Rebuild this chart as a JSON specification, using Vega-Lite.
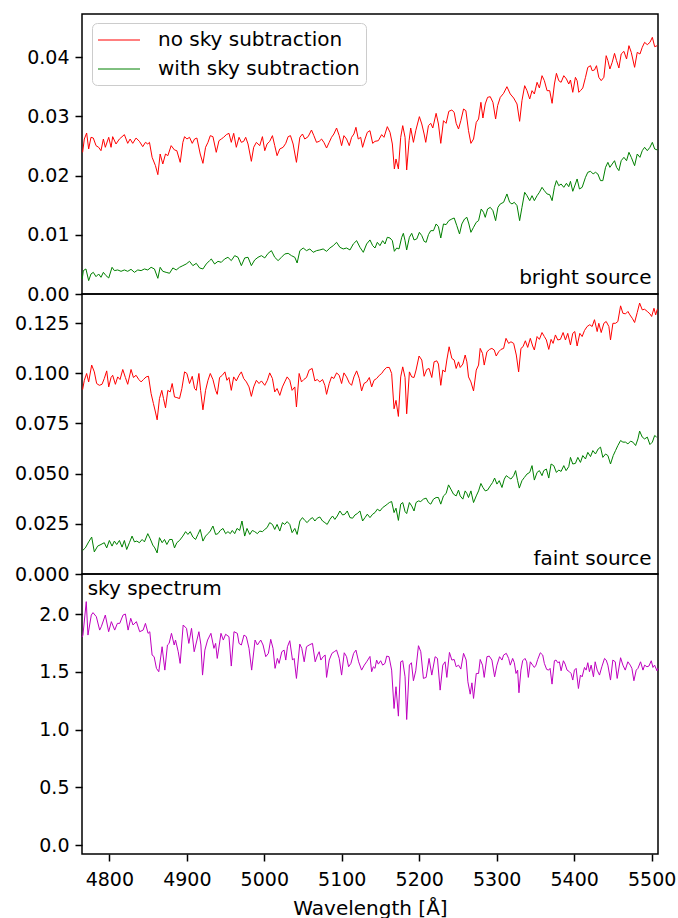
{
"$schema": "https://vega.github.io/schema/vega-lite/v6.json",
"background": "white",
"padding": {"left": 13, "top": 13, "right": 20, "bottom": 5},
"spacing": 0,
"bounds": "flush",
"config": {
  "font": "DejaVu Sans",
  "view": {"stroke": "#000000", "strokeWidth": 1.5},
  "axis": {"grid": false, "domain": false, "tickColor": "#000000", "tickWidth": 1.5, "tickSize": 7, "labelColor": "#000000", "labelFontSize": 19, "labelFont": "DejaVu Sans", "labelPadding": 6, "titleFontSize": 20, "titleFont": "DejaVu Sans", "titleFontWeight": "normal", "titleColor": "#000000"},
  "legend": {"labelFont": "DejaVu Sans", "labelFontSize": 20, "labelColor": "#000000", "labelLimit": 0}
},
"datasets": {
"bright_no": [
{"w":4765.5,"f":0.02393,"s":"no sky subtraction"},{"w":4767.7,"f":0.02618,"s":"no sky subtraction"},{"w":4770.7,"f":0.0272,"s":"no sky subtraction"},{"w":4773.3,"f":0.0245,"s":"no sky subtraction"},{"w":4776.3,"f":0.02647,"s":"no sky subtraction"},{"w":4779.3,"f":0.02635,"s":"no sky subtraction"},{"w":4782.8,"f":0.02506,"s":"no sky subtraction"},{"w":4786.2,"f":0.02478,"s":"no sky subtraction"},{"w":4789.2,"f":0.02421,"s":"no sky subtraction"},{"w":4792.3,"f":0.02618,"s":"no sky subtraction"},{"w":4794.8,"f":0.02478,"s":"no sky subtraction"},{"w":4799.2,"f":0.02647,"s":"no sky subtraction"},{"w":4802.2,"f":0.02478,"s":"no sky subtraction"},{"w":4804.3,"f":0.02658,"s":"no sky subtraction"},{"w":4808.6,"f":0.02534,"s":"no sky subtraction"},{"w":4813.0,"f":0.02618,"s":"no sky subtraction"},{"w":4819.4,"f":0.02692,"s":"no sky subtraction"},{"w":4823.7,"f":0.02545,"s":"no sky subtraction"},{"w":4826.8,"f":0.02618,"s":"no sky subtraction"},{"w":4830.2,"f":0.02545,"s":"no sky subtraction"},{"w":4834.5,"f":0.02635,"s":"no sky subtraction"},{"w":4838.8,"f":0.02579,"s":"no sky subtraction"},{"w":4843.1,"f":0.02489,"s":"no sky subtraction"},{"w":4846.6,"f":0.02562,"s":"no sky subtraction"},{"w":4849.6,"f":0.02534,"s":"no sky subtraction"},{"w":4851.8,"f":0.02562,"s":"no sky subtraction"},{"w":4855.2,"f":0.02309,"s":"no sky subtraction"},{"w":4859.5,"f":0.02168,"s":"no sky subtraction"},{"w":4862.6,"f":0.02016,"s":"no sky subtraction"},{"w":4865.6,"f":0.02365,"s":"no sky subtraction"},{"w":4869.0,"f":0.02196,"s":"no sky subtraction"},{"w":4872.5,"f":0.02365,"s":"no sky subtraction"},{"w":4875.5,"f":0.02337,"s":"no sky subtraction"},{"w":4879.8,"f":0.02506,"s":"no sky subtraction"},{"w":4884.1,"f":0.02433,"s":"no sky subtraction"},{"w":4887.1,"f":0.02421,"s":"no sky subtraction"},{"w":4891.5,"f":0.02224,"s":"no sky subtraction"},{"w":4894.9,"f":0.02562,"s":"no sky subtraction"},{"w":4897.1,"f":0.02658,"s":"no sky subtraction"},{"w":4900.1,"f":0.02618,"s":"no sky subtraction"},{"w":4903.5,"f":0.02647,"s":"no sky subtraction"},{"w":4907.0,"f":0.02545,"s":"no sky subtraction"},{"w":4910.0,"f":0.02618,"s":"no sky subtraction"},{"w":4913.0,"f":0.02635,"s":"no sky subtraction"},{"w":4917.3,"f":0.02365,"s":"no sky subtraction"},{"w":4920.8,"f":0.02207,"s":"no sky subtraction"},{"w":4924.2,"f":0.02478,"s":"no sky subtraction"},{"w":4927.3,"f":0.02562,"s":"no sky subtraction"},{"w":4930.3,"f":0.02675,"s":"no sky subtraction"},{"w":4933.7,"f":0.02658,"s":"no sky subtraction"},{"w":4938.0,"f":0.02393,"s":"no sky subtraction"},{"w":4941.5,"f":0.0259,"s":"no sky subtraction"},{"w":4944.5,"f":0.02618,"s":"no sky subtraction"},{"w":4947.5,"f":0.02647,"s":"no sky subtraction"},{"w":4951.0,"f":0.02692,"s":"no sky subtraction"},{"w":4954.4,"f":0.02714,"s":"no sky subtraction"},{"w":4957.4,"f":0.02562,"s":"no sky subtraction"},{"w":4960.5,"f":0.02714,"s":"no sky subtraction"},{"w":4963.9,"f":0.02478,"s":"no sky subtraction"},{"w":4967.4,"f":0.02647,"s":"no sky subtraction"},{"w":4970.4,"f":0.02562,"s":"no sky subtraction"},{"w":4973.4,"f":0.02579,"s":"no sky subtraction"},{"w":4976.0,"f":0.02647,"s":"no sky subtraction"},{"w":4979.0,"f":0.02534,"s":"no sky subtraction"},{"w":4983.3,"f":0.02241,"s":"no sky subtraction"},{"w":4986.3,"f":0.02478,"s":"no sky subtraction"},{"w":4989.8,"f":0.02562,"s":"no sky subtraction"},{"w":4994.1,"f":0.02506,"s":"no sky subtraction"},{"w":4997.6,"f":0.02658,"s":"no sky subtraction"},{"w":5000.6,"f":0.02421,"s":"no sky subtraction"},{"w":5003.6,"f":0.02534,"s":"no sky subtraction"},{"w":5007.0,"f":0.02579,"s":"no sky subtraction"},{"w":5010.5,"f":0.02675,"s":"no sky subtraction"},{"w":5013.5,"f":0.02506,"s":"no sky subtraction"},{"w":5016.5,"f":0.02337,"s":"no sky subtraction"},{"w":5020.0,"f":0.0245,"s":"no sky subtraction"},{"w":5024.3,"f":0.02478,"s":"no sky subtraction"},{"w":5027.7,"f":0.02545,"s":"no sky subtraction"},{"w":5030.8,"f":0.02658,"s":"no sky subtraction"},{"w":5033.8,"f":0.02675,"s":"no sky subtraction"},{"w":5037.2,"f":0.02534,"s":"no sky subtraction"},{"w":5041.5,"f":0.02224,"s":"no sky subtraction"},{"w":5045.9,"f":0.02647,"s":"no sky subtraction"},{"w":5049.3,"f":0.02703,"s":"no sky subtraction"},{"w":5052.3,"f":0.02618,"s":"no sky subtraction"},{"w":5056.6,"f":0.02658,"s":"no sky subtraction"},{"w":5060.9,"f":0.0277,"s":"no sky subtraction"},{"w":5064.0,"f":0.02675,"s":"no sky subtraction"},{"w":5067.4,"f":0.02562,"s":"no sky subtraction"},{"w":5070.9,"f":0.02579,"s":"no sky subtraction"},{"w":5073.9,"f":0.02618,"s":"no sky subtraction"},{"w":5076.9,"f":0.02562,"s":"no sky subtraction"},{"w":5080.4,"f":0.02466,"s":"no sky subtraction"},{"w":5083.8,"f":0.02562,"s":"no sky subtraction"},{"w":5086.8,"f":0.02647,"s":"no sky subtraction"},{"w":5089.8,"f":0.02703,"s":"no sky subtraction"},{"w":5093.3,"f":0.02804,"s":"no sky subtraction"},{"w":5096.7,"f":0.02675,"s":"no sky subtraction"},{"w":5099.8,"f":0.02506,"s":"no sky subtraction"},{"w":5102.8,"f":0.02675,"s":"no sky subtraction"},{"w":5106.2,"f":0.02618,"s":"no sky subtraction"},{"w":5109.7,"f":0.02506,"s":"no sky subtraction"},{"w":5112.7,"f":0.02647,"s":"no sky subtraction"},{"w":5115.7,"f":0.02703,"s":"no sky subtraction"},{"w":5118.3,"f":0.02816,"s":"no sky subtraction"},{"w":5121.3,"f":0.02618,"s":"no sky subtraction"},{"w":5124.4,"f":0.02647,"s":"no sky subtraction"},{"w":5126.9,"f":0.02478,"s":"no sky subtraction"},{"w":5130.0,"f":0.02618,"s":"no sky subtraction"},{"w":5133.0,"f":0.02731,"s":"no sky subtraction"},
{"w":5136.4,"f":0.02759,"s":"no sky subtraction"},{"w":5139.9,"f":0.02545,"s":"no sky subtraction"},{"w":5142.9,"f":0.02579,"s":"no sky subtraction"},{"w":5147.2,"f":0.0259,"s":"no sky subtraction"},{"w":5151.5,"f":0.02692,"s":"no sky subtraction"},{"w":5154.5,"f":0.02647,"s":"no sky subtraction"},{"w":5158.8,"f":0.02827,"s":"no sky subtraction"},{"w":5162.3,"f":0.02731,"s":"no sky subtraction"},{"w":5165.3,"f":0.02534,"s":"no sky subtraction"},{"w":5167.9,"f":0.02112,"s":"no sky subtraction"},{"w":5170.0,"f":0.02281,"s":"no sky subtraction"},{"w":5173.1,"f":0.02112,"s":"no sky subtraction"},{"w":5176.1,"f":0.02647,"s":"no sky subtraction"},{"w":5178.7,"f":0.02844,"s":"no sky subtraction"},{"w":5181.7,"f":0.02647,"s":"no sky subtraction"},{"w":5183.8,"f":0.02095,"s":"no sky subtraction"},{"w":5186.9,"f":0.0259,"s":"no sky subtraction"},{"w":5189.0,"f":0.02804,"s":"no sky subtraction"},{"w":5192.5,"f":0.02562,"s":"no sky subtraction"},{"w":5195.5,"f":0.02759,"s":"no sky subtraction"},{"w":5200.2,"f":0.02996,"s":"no sky subtraction"},{"w":5203.3,"f":0.02872,"s":"no sky subtraction"},{"w":5206.3,"f":0.02703,"s":"no sky subtraction"},{"w":5208.4,"f":0.02562,"s":"no sky subtraction"},{"w":5211.9,"f":0.02844,"s":"no sky subtraction"},{"w":5214.9,"f":0.02883,"s":"no sky subtraction"},{"w":5217.5,"f":0.02804,"s":"no sky subtraction"},{"w":5221.8,"f":0.03052,"s":"no sky subtraction"},{"w":5224.8,"f":0.02872,"s":"no sky subtraction"},{"w":5227.8,"f":0.02545,"s":"no sky subtraction"},{"w":5231.3,"f":0.02928,"s":"no sky subtraction"},{"w":5234.7,"f":0.02883,"s":"no sky subtraction"},{"w":5238.2,"f":0.03086,"s":"no sky subtraction"},{"w":5242.1,"f":0.03108,"s":"no sky subtraction"},{"w":5245.1,"f":0.03069,"s":"no sky subtraction"},{"w":5247.7,"f":0.02883,"s":"no sky subtraction"},{"w":5250.7,"f":0.02787,"s":"no sky subtraction"},{"w":5253.7,"f":0.02928,"s":"no sky subtraction"},{"w":5257.2,"f":0.03125,"s":"no sky subtraction"},{"w":5260.2,"f":0.03097,"s":"no sky subtraction"},{"w":5263.6,"f":0.02759,"s":"no sky subtraction"},{"w":5266.7,"f":0.02545,"s":"no sky subtraction"},{"w":5270.1,"f":0.02618,"s":"no sky subtraction"},{"w":5273.6,"f":0.029,"s":"no sky subtraction"},{"w":5276.6,"f":0.02956,"s":"no sky subtraction"},{"w":5279.6,"f":0.03238,"s":"no sky subtraction"},{"w":5282.2,"f":0.02973,"s":"no sky subtraction"},{"w":5285.2,"f":0.0321,"s":"no sky subtraction"},{"w":5288.2,"f":0.03322,"s":"no sky subtraction"},{"w":5291.7,"f":0.03333,"s":"no sky subtraction"},{"w":5295.1,"f":0.03238,"s":"no sky subtraction"},{"w":5298.6,"f":0.02956,"s":"no sky subtraction"},{"w":5301.2,"f":0.03182,"s":"no sky subtraction"},{"w":5304.6,"f":0.03322,"s":"no sky subtraction"},{"w":5308.9,"f":0.0339,"s":"no sky subtraction"},{"w":5313.2,"f":0.03502,"s":"no sky subtraction"},{"w":5317.5,"f":0.03379,"s":"no sky subtraction"},{"w":5321.9,"f":0.03311,"s":"no sky subtraction"},{"w":5326.2,"f":0.0321,"s":"no sky subtraction"},{"w":5329.6,"f":0.02917,"s":"no sky subtraction"},{"w":5332.6,"f":0.03266,"s":"no sky subtraction"},{"w":5336.1,"f":0.03519,"s":"no sky subtraction"},{"w":5339.1,"f":0.03435,"s":"no sky subtraction"},{"w":5342.6,"f":0.03294,"s":"no sky subtraction"},{"w":5345.6,"f":0.03435,"s":"no sky subtraction"},{"w":5348.6,"f":0.03379,"s":"no sky subtraction"},{"w":5352.1,"f":0.03576,"s":"no sky subtraction"},{"w":5355.1,"f":0.0348,"s":"no sky subtraction"},{"w":5358.5,"f":0.03688,"s":"no sky subtraction"},{"w":5361.5,"f":0.03604,"s":"no sky subtraction"},{"w":5365.0,"f":0.03435,"s":"no sky subtraction"},{"w":5368.4,"f":0.03435,"s":"no sky subtraction"},{"w":5371.5,"f":0.03221,"s":"no sky subtraction"},{"w":5374.5,"f":0.03547,"s":"no sky subtraction"},{"w":5377.1,"f":0.03728,"s":"no sky subtraction"},{"w":5380.1,"f":0.03604,"s":"no sky subtraction"},{"w":5383.1,"f":0.03576,"s":"no sky subtraction"},{"w":5386.6,"f":0.03688,"s":"no sky subtraction"},{"w":5390.0,"f":0.03632,"s":"no sky subtraction"},{"w":5393.0,"f":0.03547,"s":"no sky subtraction"},{"w":5395.2,"f":0.03615,"s":"no sky subtraction"},{"w":5398.2,"f":0.03407,"s":"no sky subtraction"},{"w":5401.6,"f":0.0366,"s":"no sky subtraction"},{"w":5403.8,"f":0.03604,"s":"no sky subtraction"},{"w":5406.0,"f":0.03407,"s":"no sky subtraction"},{"w":5408.1,"f":0.03435,"s":"no sky subtraction"},{"w":5411.1,"f":0.0348,"s":"no sky subtraction"},{"w":5414.6,"f":0.0366,"s":"no sky subtraction"},{"w":5417.6,"f":0.03829,"s":"no sky subtraction"},{"w":5421.1,"f":0.03857,"s":"no sky subtraction"},{"w":5423.2,"f":0.03773,"s":"no sky subtraction"},{"w":5426.2,"f":0.03784,"s":"no sky subtraction"},{"w":5428.8,"f":0.03857,"s":"no sky subtraction"},{"w":5431.8,"f":0.0366,"s":"no sky subtraction"},{"w":5434.9,"f":0.03604,"s":"no sky subtraction"},{"w":5438.3,"f":0.0366,"s":"no sky subtraction"},{"w":5441.3,"f":0.04026,"s":"no sky subtraction"},{"w":5443.5,"f":0.03942,"s":"no sky subtraction"},{"w":5446.1,"f":0.03801,"s":"no sky subtraction"},{"w":5449.1,"f":0.03913,"s":"no sky subtraction"},{"w":5452.1,"f":0.04065,"s":"no sky subtraction"},{"w":5454.7,"f":0.03942,"s":"no sky subtraction"},{"w":5457.7,"f":0.03818,"s":"no sky subtraction"},{"w":5460.7,"f":0.04054,"s":"no sky subtraction"},{"w":5464.2,"f":0.04099,"s":"no sky subtraction"},{"w":5467.6,"f":0.0397,"s":"no sky subtraction"},{"w":5470.7,"f":0.04195,"s":"no sky subtraction"},{"w":5473.7,"f":0.04082,"s":"no sky subtraction"},{"w":5478.0,"f":0.03829,"s":"no sky subtraction"},{"w":5481.4,"f":0.04082,"s":"no sky subtraction"},{"w":5484.9,"f":0.04054,"s":"no sky subtraction"},{"w":5487.9,"f":0.04167,"s":"no sky subtraction"},{"w":5490.9,"f":0.04251,"s":"no sky subtraction"},{"w":5494.4,"f":0.04212,"s":"no sky subtraction"},{"w":5497.8,"f":0.04251,"s":"no sky subtraction"},{"w":5500.9,"f":0.04336,"s":"no sky subtraction"},{"w":5503.9,"f":0.04178,"s":"no sky subtraction"},{"w":5507.3,"f":0.04195,"s":"no sky subtraction"}
],
"bright_with": [
{"w":4765.0,"f":0.00254,"s":"with sky subtraction"},{"w":4766.4,"f":0.00395,"s":"with sky subtraction"},{"w":4769.8,"f":0.00423,"s":"with sky subtraction"},{"w":4773.3,"f":0.00226,"s":"with sky subtraction"},{"w":4776.3,"f":0.00338,"s":"with sky subtraction"},{"w":4779.3,"f":0.00366,"s":"with sky subtraction"},{"w":4782.8,"f":0.00293,"s":"with sky subtraction"},{"w":4786.2,"f":0.00338,"s":"with sky subtraction"},{"w":4789.2,"f":0.00282,"s":"with sky subtraction"},{"w":4792.3,"f":0.00366,"s":"with sky subtraction"},{"w":4795.7,"f":0.0031,"s":"with sky subtraction"},{"w":4799.2,"f":0.00271,"s":"with sky subtraction"},{"w":4803.5,"f":0.00451,"s":"with sky subtraction"},{"w":4806.5,"f":0.00395,"s":"with sky subtraction"},{"w":4810.8,"f":0.00406,"s":"with sky subtraction"},{"w":4815.1,"f":0.00383,"s":"with sky subtraction"},{"w":4819.4,"f":0.00406,"s":"with sky subtraction"},{"w":4823.7,"f":0.00383,"s":"with sky subtraction"},{"w":4828.0,"f":0.00417,"s":"with sky subtraction"},{"w":4832.4,"f":0.00366,"s":"with sky subtraction"},{"w":4836.7,"f":0.00406,"s":"with sky subtraction"},{"w":4841.0,"f":0.00395,"s":"with sky subtraction"},{"w":4845.3,"f":0.00423,"s":"with sky subtraction"},{"w":4849.6,"f":0.00406,"s":"with sky subtraction"},{"w":4853.9,"f":0.00451,"s":"with sky subtraction"},{"w":4858.2,"f":0.00423,"s":"with sky subtraction"},{"w":4862.6,"f":0.00265,"s":"with sky subtraction"},{"w":4865.6,"f":0.00451,"s":"with sky subtraction"},{"w":4869.0,"f":0.00383,"s":"with sky subtraction"},{"w":4873.3,"f":0.00366,"s":"with sky subtraction"},{"w":4877.7,"f":0.0035,"s":"with sky subtraction"},{"w":4882.0,"f":0.0044,"s":"with sky subtraction"},{"w":4886.3,"f":0.00406,"s":"with sky subtraction"},{"w":4890.6,"f":0.00451,"s":"with sky subtraction"},{"w":4894.9,"f":0.00479,"s":"with sky subtraction"},{"w":4899.2,"f":0.00507,"s":"with sky subtraction"},{"w":4903.5,"f":0.00552,"s":"with sky subtraction"},{"w":4907.8,"f":0.00479,"s":"with sky subtraction"},{"w":4912.2,"f":0.00518,"s":"with sky subtraction"},{"w":4916.5,"f":0.0044,"s":"with sky subtraction"},{"w":4920.8,"f":0.00423,"s":"with sky subtraction"},{"w":4925.1,"f":0.00507,"s":"with sky subtraction"},{"w":4929.4,"f":0.00564,"s":"with sky subtraction"},{"w":4931.6,"f":0.00592,"s":"with sky subtraction"},{"w":4935.9,"f":0.00507,"s":"with sky subtraction"},{"w":4940.2,"f":0.00552,"s":"with sky subtraction"},{"w":4944.5,"f":0.00535,"s":"with sky subtraction"},{"w":4948.8,"f":0.00592,"s":"with sky subtraction"},{"w":4953.1,"f":0.0062,"s":"with sky subtraction"},{"w":4957.4,"f":0.00564,"s":"with sky subtraction"},{"w":4961.8,"f":0.00648,"s":"with sky subtraction"},{"w":4966.1,"f":0.0062,"s":"with sky subtraction"},{"w":4970.4,"f":0.00479,"s":"with sky subtraction"},{"w":4974.7,"f":0.00609,"s":"with sky subtraction"},{"w":4979.0,"f":0.0062,"s":"with sky subtraction"},{"w":4983.3,"f":0.00479,"s":"with sky subtraction"},{"w":4987.6,"f":0.00575,"s":"with sky subtraction"},{"w":4991.9,"f":0.0062,"s":"with sky subtraction"},{"w":4996.3,"f":0.00648,"s":"with sky subtraction"},{"w":5000.6,"f":0.00609,"s":"with sky subtraction"},{"w":5004.9,"f":0.00687,"s":"with sky subtraction"},{"w":5009.2,"f":0.00732,"s":"with sky subtraction"},{"w":5013.5,"f":0.0062,"s":"with sky subtraction"},{"w":5017.8,"f":0.00564,"s":"with sky subtraction"},{"w":5022.1,"f":0.0062,"s":"with sky subtraction"},{"w":5026.4,"f":0.00676,"s":"with sky subtraction"},{"w":5030.8,"f":0.00687,"s":"with sky subtraction"},{"w":5035.1,"f":0.00648,"s":"with sky subtraction"},{"w":5039.4,"f":0.0062,"s":"with sky subtraction"},{"w":5042.4,"f":0.00524,"s":"with sky subtraction"},{"w":5045.9,"f":0.00732,"s":"with sky subtraction"},{"w":5050.2,"f":0.00777,"s":"with sky subtraction"},{"w":5054.5,"f":0.00732,"s":"with sky subtraction"},{"w":5058.8,"f":0.00761,"s":"with sky subtraction"},{"w":5063.1,"f":0.00704,"s":"with sky subtraction"},{"w":5067.4,"f":0.00732,"s":"with sky subtraction"},{"w":5071.7,"f":0.00744,"s":"with sky subtraction"},{"w":5076.0,"f":0.00761,"s":"with sky subtraction"},{"w":5080.4,"f":0.00721,"s":"with sky subtraction"},{"w":5084.7,"f":0.00777,"s":"with sky subtraction"},{"w":5089.0,"f":0.00817,"s":"with sky subtraction"},{"w":5093.3,"f":0.00873,"s":"with sky subtraction"},{"w":5097.6,"f":0.00789,"s":"with sky subtraction"},{"w":5101.9,"f":0.00761,"s":"with sky subtraction"},{"w":5106.2,"f":0.00777,"s":"with sky subtraction"},{"w":5110.6,"f":0.00744,"s":"with sky subtraction"},{"w":5114.9,"f":0.00845,"s":"with sky subtraction"},{"w":5119.2,"f":0.00901,"s":"with sky subtraction"},{"w":5123.5,"f":0.00789,"s":"with sky subtraction"},{"w":5127.8,"f":0.00704,"s":"with sky subtraction"},{"w":5132.1,"f":0.00845,"s":"with sky subtraction"},
{"w":5136.4,"f":0.00913,"s":"with sky subtraction"},{"w":5139.9,"f":0.00817,"s":"with sky subtraction"},{"w":5142.9,"f":0.00777,"s":"with sky subtraction"},{"w":5145.9,"f":0.00873,"s":"with sky subtraction"},{"w":5149.3,"f":0.00817,"s":"with sky subtraction"},{"w":5152.8,"f":0.00901,"s":"with sky subtraction"},{"w":5155.8,"f":0.00845,"s":"with sky subtraction"},{"w":5158.8,"f":0.00958,"s":"with sky subtraction"},{"w":5162.3,"f":0.00946,"s":"with sky subtraction"},{"w":5165.3,"f":0.00901,"s":"with sky subtraction"},{"w":5167.9,"f":0.00721,"s":"with sky subtraction"},{"w":5170.9,"f":0.00777,"s":"with sky subtraction"},{"w":5173.9,"f":0.00761,"s":"with sky subtraction"},{"w":5177.4,"f":0.00958,"s":"with sky subtraction"},{"w":5179.5,"f":0.01025,"s":"with sky subtraction"},{"w":5181.7,"f":0.00901,"s":"with sky subtraction"},{"w":5183.8,"f":0.00744,"s":"with sky subtraction"},{"w":5187.3,"f":0.00958,"s":"with sky subtraction"},{"w":5190.3,"f":0.01025,"s":"with sky subtraction"},{"w":5193.3,"f":0.00913,"s":"with sky subtraction"},{"w":5196.8,"f":0.0093,"s":"with sky subtraction"},{"w":5200.2,"f":0.01042,"s":"with sky subtraction"},{"w":5203.3,"f":0.00986,"s":"with sky subtraction"},{"w":5206.3,"f":0.0089,"s":"with sky subtraction"},{"w":5208.9,"f":0.00873,"s":"with sky subtraction"},{"w":5211.9,"f":0.01003,"s":"with sky subtraction"},{"w":5214.9,"f":0.0107,"s":"with sky subtraction"},{"w":5218.4,"f":0.0107,"s":"with sky subtraction"},{"w":5221.8,"f":0.01183,"s":"with sky subtraction"},{"w":5224.8,"f":0.01138,"s":"with sky subtraction"},{"w":5227.8,"f":0.00946,"s":"with sky subtraction"},{"w":5231.3,"f":0.01183,"s":"with sky subtraction"},{"w":5234.7,"f":0.01172,"s":"with sky subtraction"},{"w":5238.2,"f":0.01239,"s":"with sky subtraction"},{"w":5242.1,"f":0.01267,"s":"with sky subtraction"},{"w":5245.1,"f":0.01284,"s":"with sky subtraction"},{"w":5248.5,"f":0.01155,"s":"with sky subtraction"},{"w":5252.0,"f":0.01014,"s":"with sky subtraction"},{"w":5255.0,"f":0.01183,"s":"with sky subtraction"},{"w":5258.5,"f":0.01267,"s":"with sky subtraction"},{"w":5261.5,"f":0.01295,"s":"with sky subtraction"},{"w":5264.1,"f":0.01183,"s":"with sky subtraction"},{"w":5266.7,"f":0.01042,"s":"with sky subtraction"},{"w":5270.1,"f":0.01127,"s":"with sky subtraction"},{"w":5273.6,"f":0.01211,"s":"with sky subtraction"},{"w":5276.6,"f":0.01239,"s":"with sky subtraction"},{"w":5280.0,"f":0.01436,"s":"with sky subtraction"},{"w":5283.0,"f":0.0138,"s":"with sky subtraction"},{"w":5285.2,"f":0.01295,"s":"with sky subtraction"},{"w":5288.2,"f":0.01436,"s":"with sky subtraction"},{"w":5291.7,"f":0.01464,"s":"with sky subtraction"},{"w":5295.1,"f":0.01408,"s":"with sky subtraction"},{"w":5298.6,"f":0.01239,"s":"with sky subtraction"},{"w":5301.6,"f":0.01464,"s":"with sky subtraction"},{"w":5304.6,"f":0.01521,"s":"with sky subtraction"},{"w":5308.9,"f":0.01549,"s":"with sky subtraction"},{"w":5313.2,"f":0.0169,"s":"with sky subtraction"},{"w":5316.7,"f":0.01549,"s":"with sky subtraction"},{"w":5319.7,"f":0.01521,"s":"with sky subtraction"},{"w":5322.7,"f":0.01549,"s":"with sky subtraction"},{"w":5326.2,"f":0.01493,"s":"with sky subtraction"},{"w":5329.6,"f":0.01239,"s":"with sky subtraction"},{"w":5332.6,"f":0.01464,"s":"with sky subtraction"},{"w":5336.1,"f":0.01718,"s":"with sky subtraction"},{"w":5339.1,"f":0.01661,"s":"with sky subtraction"},{"w":5342.6,"f":0.01577,"s":"with sky subtraction"},{"w":5345.6,"f":0.01661,"s":"with sky subtraction"},{"w":5348.6,"f":0.01577,"s":"with sky subtraction"},{"w":5352.1,"f":0.01661,"s":"with sky subtraction"},{"w":5355.1,"f":0.01718,"s":"with sky subtraction"},{"w":5358.5,"f":0.01802,"s":"with sky subtraction"},{"w":5361.5,"f":0.01746,"s":"with sky subtraction"},{"w":5365.0,"f":0.0169,"s":"with sky subtraction"},{"w":5368.4,"f":0.01678,"s":"with sky subtraction"},{"w":5371.5,"f":0.01577,"s":"with sky subtraction"},{"w":5374.5,"f":0.01802,"s":"with sky subtraction"},{"w":5377.1,"f":0.01915,"s":"with sky subtraction"},{"w":5380.1,"f":0.0183,"s":"with sky subtraction"},{"w":5383.1,"f":0.01858,"s":"with sky subtraction"},{"w":5386.6,"f":0.01802,"s":"with sky subtraction"},{"w":5390.0,"f":0.0187,"s":"with sky subtraction"},{"w":5393.0,"f":0.01813,"s":"with sky subtraction"},{"w":5395.2,"f":0.01903,"s":"with sky subtraction"},{"w":5398.2,"f":0.01735,"s":"with sky subtraction"},{"w":5401.6,"f":0.01858,"s":"with sky subtraction"},{"w":5403.8,"f":0.01943,"s":"with sky subtraction"},{"w":5406.8,"f":0.01774,"s":"with sky subtraction"},{"w":5410.3,"f":0.01802,"s":"with sky subtraction"},{"w":5414.6,"f":0.01971,"s":"with sky subtraction"},{"w":5417.6,"f":0.02056,"s":"with sky subtraction"},{"w":5421.1,"f":0.02073,"s":"with sky subtraction"},{"w":5424.5,"f":0.02028,"s":"with sky subtraction"},{"w":5427.5,"f":0.02056,"s":"with sky subtraction"},{"w":5430.5,"f":0.02028,"s":"with sky subtraction"},{"w":5434.0,"f":0.01915,"s":"with sky subtraction"},{"w":5437.0,"f":0.01915,"s":"with sky subtraction"},{"w":5440.5,"f":0.0214,"s":"with sky subtraction"},{"w":5443.5,"f":0.02224,"s":"with sky subtraction"},{"w":5446.1,"f":0.0214,"s":"with sky subtraction"},{"w":5449.1,"f":0.02196,"s":"with sky subtraction"},{"w":5452.1,"f":0.02252,"s":"with sky subtraction"},{"w":5454.7,"f":0.0214,"s":"with sky subtraction"},{"w":5457.7,"f":0.02084,"s":"with sky subtraction"},{"w":5460.7,"f":0.02252,"s":"with sky subtraction"},{"w":5464.2,"f":0.02309,"s":"with sky subtraction"},{"w":5467.6,"f":0.02252,"s":"with sky subtraction"},{"w":5470.7,"f":0.02393,"s":"with sky subtraction"},{"w":5473.7,"f":0.02309,"s":"with sky subtraction"},{"w":5478.0,"f":0.02168,"s":"with sky subtraction"},{"w":5481.4,"f":0.02365,"s":"with sky subtraction"},{"w":5484.9,"f":0.02309,"s":"with sky subtraction"},{"w":5487.9,"f":0.02421,"s":"with sky subtraction"},{"w":5490.9,"f":0.02478,"s":"with sky subtraction"},{"w":5494.4,"f":0.02421,"s":"with sky subtraction"},{"w":5497.8,"f":0.02478,"s":"with sky subtraction"},{"w":5500.9,"f":0.02562,"s":"with sky subtraction"},{"w":5503.9,"f":0.0245,"s":"with sky subtraction"},{"w":5507.3,"f":0.02433,"s":"with sky subtraction"}
],
"faint_no": [
{"w":4765.5,"f":0.0919,"s":"no sky subtraction"},{"w":4767.7,"f":0.0965,"s":"no sky subtraction"},{"w":4770.7,"f":0.0999,"s":"no sky subtraction"},{"w":4773.3,"f":0.0957,"s":"no sky subtraction"},{"w":4777.2,"f":0.1041,"s":"no sky subtraction"},{"w":4780.6,"f":0.1007,"s":"no sky subtraction"},{"w":4783.6,"f":0.0949,"s":"no sky subtraction"},{"w":4787.1,"f":0.094,"s":"no sky subtraction"},{"w":4790.5,"f":0.0945,"s":"no sky subtraction"},{"w":4793.5,"f":0.0974,"s":"no sky subtraction"},{"w":4796.6,"f":0.1012,"s":"no sky subtraction"},{"w":4799.2,"f":0.0932,"s":"no sky subtraction"},{"w":4802.2,"f":0.0979,"s":"no sky subtraction"},{"w":4804.3,"f":0.099,"s":"no sky subtraction"},{"w":4807.8,"f":0.0945,"s":"no sky subtraction"},{"w":4810.8,"f":0.0982,"s":"no sky subtraction"},{"w":4813.8,"f":0.0969,"s":"no sky subtraction"},{"w":4817.3,"f":0.1019,"s":"no sky subtraction"},{"w":4820.7,"f":0.0979,"s":"no sky subtraction"},{"w":4823.7,"f":0.0945,"s":"no sky subtraction"},{"w":4828.0,"f":0.1019,"s":"no sky subtraction"},{"w":4831.1,"f":0.0979,"s":"no sky subtraction"},{"w":4834.5,"f":0.099,"s":"no sky subtraction"},{"w":4838.0,"f":0.0969,"s":"no sky subtraction"},{"w":4841.0,"f":0.0957,"s":"no sky subtraction"},{"w":4844.0,"f":0.0969,"s":"no sky subtraction"},{"w":4847.5,"f":0.0982,"s":"no sky subtraction"},{"w":4850.5,"f":0.0985,"s":"no sky subtraction"},{"w":4853.9,"f":0.0899,"s":"no sky subtraction"},{"w":4856.9,"f":0.0849,"s":"no sky subtraction"},{"w":4859.5,"f":0.0807,"s":"no sky subtraction"},{"w":4861.7,"f":0.0768,"s":"no sky subtraction"},{"w":4864.7,"f":0.0874,"s":"no sky subtraction"},{"w":4867.7,"f":0.0915,"s":"no sky subtraction"},{"w":4869.9,"f":0.0874,"s":"no sky subtraction"},{"w":4872.5,"f":0.0828,"s":"no sky subtraction"},{"w":4875.5,"f":0.0915,"s":"no sky subtraction"},{"w":4878.5,"f":0.0907,"s":"no sky subtraction"},{"w":4881.1,"f":0.0949,"s":"no sky subtraction"},{"w":4884.1,"f":0.0882,"s":"no sky subtraction"},{"w":4887.1,"f":0.0879,"s":"no sky subtraction"},{"w":4890.6,"f":0.0874,"s":"no sky subtraction"},{"w":4893.6,"f":0.0924,"s":"no sky subtraction"},{"w":4897.1,"f":0.1007,"s":"no sky subtraction"},{"w":4900.1,"f":0.0999,"s":"no sky subtraction"},{"w":4903.5,"f":0.0949,"s":"no sky subtraction"},{"w":4907.0,"f":0.0985,"s":"no sky subtraction"},{"w":4910.0,"f":0.0924,"s":"no sky subtraction"},{"w":4912.2,"f":0.0915,"s":"no sky subtraction"},{"w":4915.6,"f":0.0999,"s":"no sky subtraction"},{"w":4917.8,"f":0.0915,"s":"no sky subtraction"},{"w":4920.8,"f":0.0818,"s":"no sky subtraction"},{"w":4924.2,"f":0.0915,"s":"no sky subtraction"},{"w":4927.3,"f":0.0965,"s":"no sky subtraction"},{"w":4930.3,"f":0.0999,"s":"no sky subtraction"},{"w":4933.7,"f":0.0969,"s":"no sky subtraction"},{"w":4937.2,"f":0.0915,"s":"no sky subtraction"},{"w":4939.3,"f":0.0895,"s":"no sky subtraction"},{"w":4942.3,"f":0.0979,"s":"no sky subtraction"},{"w":4945.8,"f":0.099,"s":"no sky subtraction"},{"w":4949.2,"f":0.1007,"s":"no sky subtraction"},{"w":4951.8,"f":0.0965,"s":"no sky subtraction"},{"w":4954.4,"f":0.0979,"s":"no sky subtraction"},{"w":4957.4,"f":0.0915,"s":"no sky subtraction"},{"w":4960.5,"f":0.0982,"s":"no sky subtraction"},{"w":4963.9,"f":0.0962,"s":"no sky subtraction"},{"w":4967.4,"f":0.099,"s":"no sky subtraction"},{"w":4970.4,"f":0.1007,"s":"no sky subtraction"},{"w":4973.4,"f":0.0974,"s":"no sky subtraction"},{"w":4976.9,"f":0.0957,"s":"no sky subtraction"},{"w":4980.3,"f":0.0932,"s":"no sky subtraction"},{"w":4983.3,"f":0.0885,"s":"no sky subtraction"},{"w":4986.3,"f":0.0932,"s":"no sky subtraction"},{"w":4989.8,"f":0.0965,"s":"no sky subtraction"},{"w":4993.2,"f":0.0949,"s":"no sky subtraction"},{"w":4996.3,"f":0.0962,"s":"no sky subtraction"},{"w":5000.6,"f":0.094,"s":"no sky subtraction"},{"w":5004.0,"f":0.0965,"s":"no sky subtraction"},{"w":5007.0,"f":0.1002,"s":"no sky subtraction"},{"w":5010.5,"f":0.0974,"s":"no sky subtraction"},{"w":5013.5,"f":0.0907,"s":"no sky subtraction"},{"w":5016.5,"f":0.0924,"s":"no sky subtraction"},{"w":5020.0,"f":0.089,"s":"no sky subtraction"},{"w":5023.4,"f":0.0932,"s":"no sky subtraction"},{"w":5026.4,"f":0.0957,"s":"no sky subtraction"},{"w":5029.5,"f":0.0982,"s":"no sky subtraction"},{"w":5032.9,"f":0.0965,"s":"no sky subtraction"},{"w":5035.9,"f":0.0915,"s":"no sky subtraction"},{"w":5039.4,"f":0.0932,"s":"no sky subtraction"},{"w":5041.5,"f":0.0832,"s":"no sky subtraction"},{"w":5045.0,"f":0.0999,"s":"no sky subtraction"},{"w":5048.0,"f":0.0957,"s":"no sky subtraction"},{"w":5051.0,"f":0.0969,"s":"no sky subtraction"},{"w":5054.5,"f":0.0979,"s":"no sky subtraction"},{"w":5057.9,"f":0.1016,"s":"no sky subtraction"},{"w":5061.8,"f":0.1024,"s":"no sky subtraction"},{"w":5065.3,"f":0.0962,"s":"no sky subtraction"},{"w":5068.3,"f":0.0969,"s":"no sky subtraction"},{"w":5071.7,"f":0.0957,"s":"no sky subtraction"},{"w":5075.2,"f":0.0969,"s":"no sky subtraction"},{"w":5078.2,"f":0.094,"s":"no sky subtraction"},{"w":5080.4,"f":0.0895,"s":"no sky subtraction"},{"w":5083.8,"f":0.0949,"s":"no sky subtraction"},{"w":5086.8,"f":0.0982,"s":"no sky subtraction"},{"w":5089.8,"f":0.0974,"s":"no sky subtraction"},{"w":5093.3,"f":0.1002,"s":"no sky subtraction"},{"w":5096.7,"f":0.099,"s":"no sky subtraction"},{"w":5099.8,"f":0.0949,"s":"no sky subtraction"},{"w":5102.8,"f":0.1002,"s":"no sky subtraction"},{"w":5106.2,"f":0.0982,"s":"no sky subtraction"},{"w":5109.7,"f":0.0952,"s":"no sky subtraction"},{"w":5112.7,"f":0.094,"s":"no sky subtraction"},{"w":5115.7,"f":0.0982,"s":"no sky subtraction"},{"w":5119.2,"f":0.1012,"s":"no sky subtraction"},{"w":5122.6,"f":0.0974,"s":"no sky subtraction"},{"w":5125.6,"f":0.0912,"s":"no sky subtraction"},{"w":5128.7,"f":0.0949,"s":"no sky subtraction"},{"w":5132.1,"f":0.0957,"s":"no sky subtraction"},{"w":5135.6,"f":0.0979,"s":"no sky subtraction"},
{"w":5138.6,"f":0.0932,"s":"no sky subtraction"},{"w":5141.6,"f":0.0965,"s":"no sky subtraction"},{"w":5145.0,"f":0.0974,"s":"no sky subtraction"},{"w":5148.5,"f":0.099,"s":"no sky subtraction"},{"w":5151.5,"f":0.0999,"s":"no sky subtraction"},{"w":5154.5,"f":0.1016,"s":"no sky subtraction"},{"w":5158.0,"f":0.1029,"s":"no sky subtraction"},{"w":5161.4,"f":0.1029,"s":"no sky subtraction"},{"w":5164.4,"f":0.0999,"s":"no sky subtraction"},{"w":5167.5,"f":0.0823,"s":"no sky subtraction"},{"w":5170.0,"f":0.0865,"s":"no sky subtraction"},{"w":5173.1,"f":0.0785,"s":"no sky subtraction"},{"w":5176.1,"f":0.0982,"s":"no sky subtraction"},{"w":5178.7,"f":0.1032,"s":"no sky subtraction"},{"w":5181.7,"f":0.0979,"s":"no sky subtraction"},{"w":5183.8,"f":0.0798,"s":"no sky subtraction"},{"w":5187.3,"f":0.1007,"s":"no sky subtraction"},{"w":5190.3,"f":0.0982,"s":"no sky subtraction"},{"w":5193.3,"f":0.0979,"s":"no sky subtraction"},{"w":5195.9,"f":0.1016,"s":"no sky subtraction"},{"w":5199.8,"f":0.1086,"s":"no sky subtraction"},{"w":5203.3,"f":0.1066,"s":"no sky subtraction"},{"w":5206.3,"f":0.0985,"s":"no sky subtraction"},{"w":5209.7,"f":0.1019,"s":"no sky subtraction"},{"w":5212.7,"f":0.1024,"s":"no sky subtraction"},{"w":5216.2,"f":0.0979,"s":"no sky subtraction"},{"w":5219.2,"f":0.1057,"s":"no sky subtraction"},{"w":5222.7,"f":0.1062,"s":"no sky subtraction"},{"w":5224.8,"f":0.1046,"s":"no sky subtraction"},{"w":5227.8,"f":0.094,"s":"no sky subtraction"},{"w":5230.4,"f":0.1016,"s":"no sky subtraction"},{"w":5233.4,"f":0.1007,"s":"no sky subtraction"},{"w":5235.6,"f":0.1066,"s":"no sky subtraction"},{"w":5238.6,"f":0.1132,"s":"no sky subtraction"},{"w":5242.1,"f":0.1074,"s":"no sky subtraction"},{"w":5245.1,"f":0.1066,"s":"no sky subtraction"},{"w":5247.7,"f":0.1024,"s":"no sky subtraction"},{"w":5250.7,"f":0.1057,"s":"no sky subtraction"},{"w":5252.9,"f":0.1029,"s":"no sky subtraction"},{"w":5256.3,"f":0.1046,"s":"no sky subtraction"},{"w":5259.3,"f":0.1091,"s":"no sky subtraction"},{"w":5261.5,"f":0.1057,"s":"no sky subtraction"},{"w":5263.6,"f":0.0982,"s":"no sky subtraction"},{"w":5266.7,"f":0.0957,"s":"no sky subtraction"},{"w":5270.1,"f":0.0912,"s":"no sky subtraction"},{"w":5273.6,"f":0.1016,"s":"no sky subtraction"},{"w":5276.6,"f":0.1041,"s":"no sky subtraction"},{"w":5278.7,"f":0.1124,"s":"no sky subtraction"},{"w":5281.7,"f":0.1099,"s":"no sky subtraction"},{"w":5283.9,"f":0.1041,"s":"no sky subtraction"},{"w":5287.4,"f":0.1107,"s":"no sky subtraction"},{"w":5290.8,"f":0.1119,"s":"no sky subtraction"},{"w":5293.8,"f":0.1124,"s":"no sky subtraction"},{"w":5296.8,"f":0.1116,"s":"no sky subtraction"},{"w":5299.4,"f":0.1086,"s":"no sky subtraction"},{"w":5302.5,"f":0.1107,"s":"no sky subtraction"},{"w":5305.5,"f":0.1119,"s":"no sky subtraction"},{"w":5308.9,"f":0.1124,"s":"no sky subtraction"},{"w":5312.0,"f":0.1174,"s":"no sky subtraction"},{"w":5315.4,"f":0.1149,"s":"no sky subtraction"},{"w":5318.4,"f":0.1157,"s":"no sky subtraction"},{"w":5321.9,"f":0.1149,"s":"no sky subtraction"},{"w":5325.3,"f":0.1091,"s":"no sky subtraction"},{"w":5328.3,"f":0.1007,"s":"no sky subtraction"},{"w":5331.3,"f":0.1124,"s":"no sky subtraction"},{"w":5333.9,"f":0.1132,"s":"no sky subtraction"},{"w":5337.0,"f":0.1162,"s":"no sky subtraction"},{"w":5340.0,"f":0.1129,"s":"no sky subtraction"},{"w":5343.4,"f":0.1174,"s":"no sky subtraction"},{"w":5346.4,"f":0.1136,"s":"no sky subtraction"},{"w":5348.6,"f":0.1116,"s":"no sky subtraction"},{"w":5352.1,"f":0.1183,"s":"no sky subtraction"},{"w":5355.1,"f":0.1169,"s":"no sky subtraction"},{"w":5358.5,"f":0.1203,"s":"no sky subtraction"},{"w":5361.5,"f":0.1183,"s":"no sky subtraction"},{"w":5364.1,"f":0.1166,"s":"no sky subtraction"},{"w":5367.2,"f":0.1119,"s":"no sky subtraction"},{"w":5370.2,"f":0.1169,"s":"no sky subtraction"},{"w":5372.8,"f":0.1149,"s":"no sky subtraction"},{"w":5375.8,"f":0.1191,"s":"no sky subtraction"},{"w":5378.8,"f":0.1166,"s":"no sky subtraction"},{"w":5382.2,"f":0.1169,"s":"no sky subtraction"},{"w":5385.7,"f":0.1203,"s":"no sky subtraction"},{"w":5388.7,"f":0.1166,"s":"no sky subtraction"},{"w":5391.7,"f":0.1199,"s":"no sky subtraction"},{"w":5395.2,"f":0.1141,"s":"no sky subtraction"},{"w":5398.2,"f":0.1199,"s":"no sky subtraction"},{"w":5400.8,"f":0.1208,"s":"no sky subtraction"},{"w":5403.8,"f":0.1136,"s":"no sky subtraction"},{"w":5407.3,"f":0.1199,"s":"no sky subtraction"},{"w":5410.3,"f":0.1183,"s":"no sky subtraction"},{"w":5413.3,"f":0.1213,"s":"no sky subtraction"},{"w":5416.7,"f":0.1233,"s":"no sky subtraction"},{"w":5420.2,"f":0.1242,"s":"no sky subtraction"},{"w":5423.2,"f":0.1233,"s":"no sky subtraction"},{"w":5426.2,"f":0.1267,"s":"no sky subtraction"},{"w":5429.7,"f":0.1208,"s":"no sky subtraction"},{"w":5431.8,"f":0.1249,"s":"no sky subtraction"},{"w":5434.9,"f":0.1203,"s":"no sky subtraction"},{"w":5438.3,"f":0.1249,"s":"no sky subtraction"},{"w":5441.3,"f":0.1258,"s":"no sky subtraction"},{"w":5444.8,"f":0.1233,"s":"no sky subtraction"},{"w":5446.9,"f":0.1166,"s":"no sky subtraction"},{"w":5450.0,"f":0.1249,"s":"no sky subtraction"},{"w":5453.4,"f":0.1249,"s":"no sky subtraction"},{"w":5456.4,"f":0.1258,"s":"no sky subtraction"},{"w":5459.9,"f":0.1336,"s":"no sky subtraction"},{"w":5462.9,"f":0.1299,"s":"no sky subtraction"},{"w":5466.3,"f":0.1296,"s":"no sky subtraction"},{"w":5469.4,"f":0.1308,"s":"no sky subtraction"},{"w":5471.9,"f":0.1291,"s":"no sky subtraction"},{"w":5475.0,"f":0.1274,"s":"no sky subtraction"},{"w":5478.0,"f":0.1253,"s":"no sky subtraction"},{"w":5481.4,"f":0.1303,"s":"no sky subtraction"},{"w":5484.5,"f":0.135,"s":"no sky subtraction"},{"w":5487.9,"f":0.1316,"s":"no sky subtraction"},{"w":5490.9,"f":0.1319,"s":"no sky subtraction"},{"w":5494.4,"f":0.1308,"s":"no sky subtraction"},{"w":5497.8,"f":0.1296,"s":"no sky subtraction"},{"w":5500.0,"f":0.1283,"s":"no sky subtraction"},{"w":5503.0,"f":0.1324,"s":"no sky subtraction"},{"w":5505.2,"f":0.1291,"s":"no sky subtraction"},{"w":5507.3,"f":0.1319,"s":"no sky subtraction"}
],
"faint_with": [
{"w":4765.5,"f":0.0117,"s":"with sky subtraction"},{"w":4769.0,"f":0.013,"s":"with sky subtraction"},{"w":4773.3,"f":0.016,"s":"with sky subtraction"},{"w":4777.2,"f":0.0184,"s":"with sky subtraction"},{"w":4780.6,"f":0.011,"s":"with sky subtraction"},{"w":4784.9,"f":0.0139,"s":"with sky subtraction"},{"w":4789.2,"f":0.0147,"s":"with sky subtraction"},{"w":4793.5,"f":0.0156,"s":"with sky subtraction"},{"w":4796.6,"f":0.013,"s":"with sky subtraction"},{"w":4800.0,"f":0.0167,"s":"with sky subtraction"},{"w":4803.5,"f":0.0139,"s":"with sky subtraction"},{"w":4806.5,"f":0.0164,"s":"with sky subtraction"},{"w":4809.5,"f":0.0147,"s":"with sky subtraction"},{"w":4813.0,"f":0.0167,"s":"with sky subtraction"},{"w":4816.4,"f":0.0134,"s":"with sky subtraction"},{"w":4819.4,"f":0.0167,"s":"with sky subtraction"},{"w":4822.4,"f":0.0122,"s":"with sky subtraction"},{"w":4825.9,"f":0.0156,"s":"with sky subtraction"},{"w":4829.3,"f":0.0189,"s":"with sky subtraction"},{"w":4832.4,"f":0.016,"s":"with sky subtraction"},{"w":4835.4,"f":0.0164,"s":"with sky subtraction"},{"w":4838.8,"f":0.0156,"s":"with sky subtraction"},{"w":4842.3,"f":0.0172,"s":"with sky subtraction"},{"w":4845.3,"f":0.016,"s":"with sky subtraction"},{"w":4849.6,"f":0.0201,"s":"with sky subtraction"},{"w":4852.6,"f":0.0177,"s":"with sky subtraction"},{"w":4856.1,"f":0.0144,"s":"with sky subtraction"},{"w":4858.7,"f":0.013,"s":"with sky subtraction"},{"w":4861.7,"f":0.0105,"s":"with sky subtraction"},{"w":4864.7,"f":0.0181,"s":"with sky subtraction"},{"w":4868.2,"f":0.0156,"s":"with sky subtraction"},{"w":4871.2,"f":0.0172,"s":"with sky subtraction"},{"w":4874.2,"f":0.0147,"s":"with sky subtraction"},{"w":4877.7,"f":0.0172,"s":"with sky subtraction"},{"w":4881.1,"f":0.0172,"s":"with sky subtraction"},{"w":4884.1,"f":0.013,"s":"with sky subtraction"},{"w":4887.1,"f":0.0156,"s":"with sky subtraction"},{"w":4890.6,"f":0.0167,"s":"with sky subtraction"},{"w":4894.9,"f":0.0189,"s":"with sky subtraction"},{"w":4898.4,"f":0.0211,"s":"with sky subtraction"},{"w":4901.4,"f":0.0197,"s":"with sky subtraction"},{"w":4904.4,"f":0.0211,"s":"with sky subtraction"},{"w":4907.8,"f":0.0184,"s":"with sky subtraction"},{"w":4911.3,"f":0.0172,"s":"with sky subtraction"},{"w":4914.3,"f":0.0197,"s":"with sky subtraction"},{"w":4917.3,"f":0.0222,"s":"with sky subtraction"},{"w":4920.8,"f":0.0164,"s":"with sky subtraction"},{"w":4924.2,"f":0.0189,"s":"with sky subtraction"},{"w":4927.3,"f":0.0201,"s":"with sky subtraction"},{"w":4930.3,"f":0.0214,"s":"with sky subtraction"},{"w":4933.7,"f":0.0239,"s":"with sky subtraction"},{"w":4937.2,"f":0.0197,"s":"with sky subtraction"},{"w":4940.2,"f":0.0201,"s":"with sky subtraction"},{"w":4943.2,"f":0.0217,"s":"with sky subtraction"},{"w":4946.7,"f":0.0227,"s":"with sky subtraction"},{"w":4950.1,"f":0.0201,"s":"with sky subtraction"},{"w":4953.1,"f":0.0211,"s":"with sky subtraction"},{"w":4956.1,"f":0.0201,"s":"with sky subtraction"},{"w":4958.7,"f":0.0217,"s":"with sky subtraction"},{"w":4961.8,"f":0.0201,"s":"with sky subtraction"},{"w":4964.8,"f":0.0227,"s":"with sky subtraction"},{"w":4968.2,"f":0.0217,"s":"with sky subtraction"},{"w":4971.2,"f":0.0264,"s":"with sky subtraction"},{"w":4974.7,"f":0.0189,"s":"with sky subtraction"},{"w":4977.7,"f":0.0227,"s":"with sky subtraction"},{"w":4981.2,"f":0.0197,"s":"with sky subtraction"},{"w":4984.6,"f":0.0217,"s":"with sky subtraction"},{"w":4987.6,"f":0.0211,"s":"with sky subtraction"},{"w":4991.1,"f":0.0201,"s":"with sky subtraction"},{"w":4994.1,"f":0.0214,"s":"with sky subtraction"},{"w":4997.6,"f":0.0211,"s":"with sky subtraction"},{"w":5000.6,"f":0.0222,"s":"with sky subtraction"},{"w":5003.6,"f":0.0231,"s":"with sky subtraction"},{"w":5007.0,"f":0.0256,"s":"with sky subtraction"},{"w":5010.5,"f":0.0247,"s":"with sky subtraction"},{"w":5013.5,"f":0.0222,"s":"with sky subtraction"},{"w":5016.5,"f":0.0247,"s":"with sky subtraction"},{"w":5020.0,"f":0.0214,"s":"with sky subtraction"},{"w":5023.4,"f":0.0256,"s":"with sky subtraction"},{"w":5026.4,"f":0.0247,"s":"with sky subtraction"},{"w":5029.5,"f":0.0261,"s":"with sky subtraction"},{"w":5032.9,"f":0.0247,"s":"with sky subtraction"},{"w":5035.9,"f":0.0206,"s":"with sky subtraction"},{"w":5039.4,"f":0.0227,"s":"with sky subtraction"},{"w":5042.4,"f":0.0197,"s":"with sky subtraction"},{"w":5045.9,"f":0.0264,"s":"with sky subtraction"},{"w":5049.3,"f":0.0281,"s":"with sky subtraction"},{"w":5052.3,"f":0.0267,"s":"with sky subtraction"},{"w":5055.3,"f":0.0256,"s":"with sky subtraction"},{"w":5058.8,"f":0.0272,"s":"with sky subtraction"},{"w":5062.2,"f":0.0281,"s":"with sky subtraction"},{"w":5065.3,"f":0.0264,"s":"with sky subtraction"},{"w":5068.3,"f":0.0278,"s":"with sky subtraction"},{"w":5071.7,"f":0.0284,"s":"with sky subtraction"},{"w":5075.2,"f":0.0264,"s":"with sky subtraction"},{"w":5078.2,"f":0.0256,"s":"with sky subtraction"},{"w":5081.2,"f":0.0247,"s":"with sky subtraction"},{"w":5084.7,"f":0.0272,"s":"with sky subtraction"},{"w":5088.1,"f":0.0289,"s":"with sky subtraction"},{"w":5091.1,"f":0.0272,"s":"with sky subtraction"},{"w":5094.2,"f":0.0289,"s":"with sky subtraction"},{"w":5097.6,"f":0.0314,"s":"with sky subtraction"},{"w":5101.1,"f":0.0294,"s":"with sky subtraction"},{"w":5104.1,"f":0.0298,"s":"with sky subtraction"},{"w":5107.1,"f":0.0314,"s":"with sky subtraction"},{"w":5110.6,"f":0.0281,"s":"with sky subtraction"},{"w":5114.0,"f":0.0278,"s":"with sky subtraction"},{"w":5117.0,"f":0.0294,"s":"with sky subtraction"},{"w":5120.0,"f":0.0301,"s":"with sky subtraction"},{"w":5123.5,"f":0.0314,"s":"with sky subtraction"},{"w":5126.9,"f":0.0264,"s":"with sky subtraction"},{"w":5130.0,"f":0.0281,"s":"with sky subtraction"},{"w":5133.0,"f":0.0298,"s":"with sky subtraction"},
{"w":5136.4,"f":0.0281,"s":"with sky subtraction"},{"w":5139.9,"f":0.0298,"s":"with sky subtraction"},{"w":5142.9,"f":0.0306,"s":"with sky subtraction"},{"w":5145.9,"f":0.0323,"s":"with sky subtraction"},{"w":5149.3,"f":0.0314,"s":"with sky subtraction"},{"w":5152.8,"f":0.0331,"s":"with sky subtraction"},{"w":5155.8,"f":0.0339,"s":"with sky subtraction"},{"w":5158.8,"f":0.0348,"s":"with sky subtraction"},{"w":5161.4,"f":0.0356,"s":"with sky subtraction"},{"w":5164.4,"f":0.0361,"s":"with sky subtraction"},{"w":5167.5,"f":0.0306,"s":"with sky subtraction"},{"w":5170.0,"f":0.0328,"s":"with sky subtraction"},{"w":5173.1,"f":0.0267,"s":"with sky subtraction"},{"w":5176.1,"f":0.0348,"s":"with sky subtraction"},{"w":5178.7,"f":0.0356,"s":"with sky subtraction"},{"w":5181.7,"f":0.0311,"s":"with sky subtraction"},{"w":5183.8,"f":0.0301,"s":"with sky subtraction"},{"w":5187.3,"f":0.0356,"s":"with sky subtraction"},{"w":5190.3,"f":0.0339,"s":"with sky subtraction"},{"w":5193.3,"f":0.0314,"s":"with sky subtraction"},{"w":5195.9,"f":0.0356,"s":"with sky subtraction"},{"w":5198.9,"f":0.0364,"s":"with sky subtraction"},{"w":5201.9,"f":0.0361,"s":"with sky subtraction"},{"w":5205.4,"f":0.0373,"s":"with sky subtraction"},{"w":5208.9,"f":0.0378,"s":"with sky subtraction"},{"w":5211.9,"f":0.0356,"s":"with sky subtraction"},{"w":5214.9,"f":0.0348,"s":"with sky subtraction"},{"w":5218.4,"f":0.0373,"s":"with sky subtraction"},{"w":5221.8,"f":0.0381,"s":"with sky subtraction"},{"w":5224.8,"f":0.0381,"s":"with sky subtraction"},{"w":5227.8,"f":0.0348,"s":"with sky subtraction"},{"w":5231.3,"f":0.0389,"s":"with sky subtraction"},{"w":5234.7,"f":0.0401,"s":"with sky subtraction"},{"w":5237.8,"f":0.0444,"s":"with sky subtraction"},{"w":5240.8,"f":0.0423,"s":"with sky subtraction"},{"w":5244.2,"f":0.0398,"s":"with sky subtraction"},{"w":5247.7,"f":0.0389,"s":"with sky subtraction"},{"w":5250.7,"f":0.0418,"s":"with sky subtraction"},{"w":5252.9,"f":0.0389,"s":"with sky subtraction"},{"w":5256.3,"f":0.0373,"s":"with sky subtraction"},{"w":5259.3,"f":0.0414,"s":"with sky subtraction"},{"w":5261.5,"f":0.0401,"s":"with sky subtraction"},{"w":5263.6,"f":0.0381,"s":"with sky subtraction"},{"w":5266.7,"f":0.0414,"s":"with sky subtraction"},{"w":5270.1,"f":0.0356,"s":"with sky subtraction"},{"w":5273.6,"f":0.0389,"s":"with sky subtraction"},{"w":5276.6,"f":0.0414,"s":"with sky subtraction"},{"w":5279.6,"f":0.0451,"s":"with sky subtraction"},{"w":5282.2,"f":0.0431,"s":"with sky subtraction"},{"w":5285.2,"f":0.0414,"s":"with sky subtraction"},{"w":5288.2,"f":0.0418,"s":"with sky subtraction"},{"w":5291.7,"f":0.0439,"s":"with sky subtraction"},{"w":5294.7,"f":0.0456,"s":"with sky subtraction"},{"w":5297.3,"f":0.0478,"s":"with sky subtraction"},{"w":5300.3,"f":0.0448,"s":"with sky subtraction"},{"w":5303.3,"f":0.0465,"s":"with sky subtraction"},{"w":5306.8,"f":0.0431,"s":"with sky subtraction"},{"w":5309.8,"f":0.0473,"s":"with sky subtraction"},{"w":5312.4,"f":0.049,"s":"with sky subtraction"},{"w":5315.4,"f":0.0481,"s":"with sky subtraction"},{"w":5318.4,"f":0.0473,"s":"with sky subtraction"},{"w":5321.9,"f":0.049,"s":"with sky subtraction"},{"w":5324.4,"f":0.0515,"s":"with sky subtraction"},{"w":5327.0,"f":0.0465,"s":"with sky subtraction"},{"w":5329.2,"f":0.0428,"s":"with sky subtraction"},{"w":5332.6,"f":0.0465,"s":"with sky subtraction"},{"w":5335.7,"f":0.0481,"s":"with sky subtraction"},{"w":5339.1,"f":0.0498,"s":"with sky subtraction"},{"w":5342.6,"f":0.0506,"s":"with sky subtraction"},{"w":5345.6,"f":0.054,"s":"with sky subtraction"},{"w":5348.6,"f":0.0468,"s":"with sky subtraction"},{"w":5352.1,"f":0.0506,"s":"with sky subtraction"},{"w":5355.1,"f":0.0515,"s":"with sky subtraction"},{"w":5358.5,"f":0.049,"s":"with sky subtraction"},{"w":5360.7,"f":0.0515,"s":"with sky subtraction"},{"w":5364.1,"f":0.0523,"s":"with sky subtraction"},{"w":5367.2,"f":0.0478,"s":"with sky subtraction"},{"w":5370.2,"f":0.0548,"s":"with sky subtraction"},{"w":5373.6,"f":0.054,"s":"with sky subtraction"},{"w":5377.1,"f":0.0506,"s":"with sky subtraction"},{"w":5380.1,"f":0.0518,"s":"with sky subtraction"},{"w":5383.1,"f":0.0511,"s":"with sky subtraction"},{"w":5386.6,"f":0.054,"s":"with sky subtraction"},{"w":5389.6,"f":0.0515,"s":"with sky subtraction"},{"w":5393.0,"f":0.0535,"s":"with sky subtraction"},{"w":5395.2,"f":0.0581,"s":"with sky subtraction"},{"w":5398.2,"f":0.0548,"s":"with sky subtraction"},{"w":5401.6,"f":0.0551,"s":"with sky subtraction"},{"w":5404.7,"f":0.0581,"s":"with sky subtraction"},{"w":5408.1,"f":0.0556,"s":"with sky subtraction"},{"w":5411.1,"f":0.059,"s":"with sky subtraction"},{"w":5414.6,"f":0.0573,"s":"with sky subtraction"},{"w":5417.6,"f":0.0606,"s":"with sky subtraction"},{"w":5421.1,"f":0.0585,"s":"with sky subtraction"},{"w":5424.1,"f":0.0615,"s":"with sky subtraction"},{"w":5427.5,"f":0.0598,"s":"with sky subtraction"},{"w":5431.0,"f":0.0623,"s":"with sky subtraction"},{"w":5434.0,"f":0.0632,"s":"with sky subtraction"},{"w":5437.0,"f":0.0581,"s":"with sky subtraction"},{"w":5440.5,"f":0.0598,"s":"with sky subtraction"},{"w":5443.5,"f":0.059,"s":"with sky subtraction"},{"w":5446.9,"f":0.0548,"s":"with sky subtraction"},{"w":5450.4,"f":0.059,"s":"with sky subtraction"},{"w":5453.4,"f":0.0615,"s":"with sky subtraction"},{"w":5456.4,"f":0.064,"s":"with sky subtraction"},{"w":5459.9,"f":0.0665,"s":"with sky subtraction"},{"w":5462.9,"f":0.0657,"s":"with sky subtraction"},{"w":5466.3,"f":0.0657,"s":"with sky subtraction"},{"w":5469.4,"f":0.0648,"s":"with sky subtraction"},{"w":5472.8,"f":0.0662,"s":"with sky subtraction"},{"w":5475.8,"f":0.0657,"s":"with sky subtraction"},{"w":5479.3,"f":0.064,"s":"with sky subtraction"},{"w":5482.3,"f":0.0673,"s":"with sky subtraction"},{"w":5484.5,"f":0.0712,"s":"with sky subtraction"},{"w":5487.9,"f":0.0682,"s":"with sky subtraction"},{"w":5490.9,"f":0.0673,"s":"with sky subtraction"},{"w":5494.4,"f":0.0682,"s":"with sky subtraction"},{"w":5497.8,"f":0.0645,"s":"with sky subtraction"},{"w":5500.9,"f":0.0657,"s":"with sky subtraction"},{"w":5503.9,"f":0.069,"s":"with sky subtraction"},{"w":5506.5,"f":0.0682,"s":"with sky subtraction"}
],
"sky": [
{"w":4764.7,"f":1.8},{"w":4765.9,"f":1.818},{"w":4770.2,"f":2.107},{"w":4772.4,"f":1.818},{"w":4776.7,"f":1.991},{"w":4778.9,"f":2.012},{"w":4783.2,"f":1.977},{"w":4787.5,"f":1.861},{"w":4789.6,"f":1.89},{"w":4794.8,"f":1.991},{"w":4799.1,"f":1.847},{"w":4802.6,"f":1.934},{"w":4806.9,"f":1.861},{"w":4810.4,"f":1.919},{"w":4813.4,"f":1.919},{"w":4817.7,"f":1.991},{"w":4820.7,"f":2.0},{"w":4824.2,"f":1.861},{"w":4827.6,"f":1.963},{"w":4830.6,"f":1.905},{"w":4834.9,"f":1.934},{"w":4839.2,"f":1.847},{"w":4843.6,"f":1.861},{"w":4846.6,"f":1.919},{"w":4850.0,"f":1.833},{"w":4852.2,"f":1.847},{"w":4855.2,"f":1.645},{"w":4857.8,"f":1.631},{"w":4860.8,"f":1.53},{"w":4863.8,"f":1.501},{"w":4868.1,"f":1.717},{"w":4871.6,"f":1.515},{"w":4875.0,"f":1.732},{"w":4877.2,"f":1.746},{"w":4880.2,"f":1.833},{"w":4883.7,"f":1.732},{"w":4885.4,"f":1.775},{"w":4888.9,"f":1.674},{"w":4891.4,"f":1.573},{"w":4895.3,"f":1.905},{"w":4899.6,"f":1.876},{"w":4902.6,"f":1.746},{"w":4906.1,"f":1.876},{"w":4909.5,"f":1.674},{"w":4915.6,"f":1.847},{"w":4918.2,"f":1.732},{"w":4920.3,"f":1.472},{"w":4923.3,"f":1.688},{"w":4926.8,"f":1.775},{"w":4931.1,"f":1.833},{"w":4935.0,"f":1.703},{"w":4937.2,"f":1.746},{"w":4939.3,"f":1.616},{"w":4941.9,"f":1.732},{"w":4944.1,"f":1.833},{"w":4947.1,"f":1.775},{"w":4950.1,"f":1.825},
{"w":4954.4,"f":1.804},{"w":4957.4,"f":1.55},{"w":4960.9,"f":1.847},{"w":4965.2,"f":1.833},{"w":4967.4,"f":1.746},{"w":4970.4,"f":1.732},{"w":4973.8,"f":1.818},{"w":4976.8,"f":1.804},{"w":4980.3,"f":1.703},{"w":4983.7,"f":1.515},{"w":4988.1,"f":1.775},{"w":4991.1,"f":1.732},{"w":4995.4,"f":1.775},{"w":4998.4,"f":1.732},{"w":5001.9,"f":1.631},{"w":5005.3,"f":1.66},{"w":5008.3,"f":1.781},{"w":5011.3,"f":1.703},{"w":5013.9,"f":1.53},{"w":5016.9,"f":1.616},{"w":5019.1,"f":1.573},{"w":5022.6,"f":1.674},{"w":5025.6,"f":1.688},{"w":5027.7,"f":1.602},{"w":5029.9,"f":1.717},{"w":5032.9,"f":1.769},{"w":5036.4,"f":1.602},{"w":5038.5,"f":1.616},{"w":5041.5,"f":1.443},{"w":5045.8,"f":1.74},{"w":5048.4,"f":1.703},{"w":5051.5,"f":1.587},{"w":5054.5,"f":1.717},{"w":5057.9,"f":1.732},{"w":5062.2,"f":1.746},{"w":5065.7,"f":1.587},{"w":5068.7,"f":1.645},{"w":5070.9,"f":1.674},{"w":5073.0,"f":1.602},{"w":5076.0,"f":1.631},{"w":5078.6,"f":1.645},{"w":5080.4,"f":1.452},{"w":5083.8,"f":1.602},{"w":5087.3,"f":1.66},{"w":5090.3,"f":1.674},{"w":5093.3,"f":1.688},{"w":5096.7,"f":1.616},{"w":5099.8,"f":1.472},{"w":5103.2,"f":1.665},{"w":5106.2,"f":1.631},{"w":5108.8,"f":1.544},{"w":5111.8,"f":1.573},{"w":5115.3,"f":1.66},{"w":5118.3,"f":1.688},{"w":5121.8,"f":1.587},{"w":5125.6,"f":1.515},{"w":5129.1,"f":1.558},{"w":5132.1,"f":1.587},{"w":5136.4,"f":1.633},
{"w":5138.6,"f":1.501},{"w":5140.7,"f":1.544},{"w":5142.9,"f":1.53},{"w":5145.0,"f":1.602},{"w":5147.2,"f":1.567},{"w":5150.2,"f":1.596},{"w":5152.8,"f":1.558},{"w":5155.8,"f":1.573},{"w":5158.0,"f":1.636},{"w":5161.0,"f":1.631},{"w":5164.4,"f":1.515},{"w":5167.5,"f":1.183},{"w":5170.0,"f":1.371},{"w":5173.1,"f":1.117},{"w":5176.1,"f":1.587},{"w":5178.7,"f":1.596},{"w":5181.7,"f":1.457},{"w":5183.8,"f":1.088},{"w":5187.3,"f":1.558},{"w":5189.9,"f":1.579},{"w":5192.5,"f":1.423},{"w":5195.5,"f":1.509},{"w":5199.0,"f":1.726},{"w":5202.0,"f":1.674},{"w":5205.4,"f":1.443},{"w":5208.9,"f":1.452},{"w":5212.7,"f":1.616},{"w":5216.2,"f":1.472},{"w":5220.5,"f":1.631},{"w":5223.5,"f":1.616},{"w":5227.0,"f":1.342},{"w":5230.4,"f":1.558},{"w":5233.4,"f":1.587},{"w":5235.6,"f":1.452},{"w":5239.0,"f":1.668},{"w":5242.1,"f":1.602},{"w":5245.1,"f":1.607},{"w":5247.7,"f":1.544},{"w":5250.7,"f":1.558},{"w":5253.7,"f":1.524},{"w":5257.2,"f":1.66},{"w":5260.6,"f":1.602},{"w":5262.8,"f":1.414},{"w":5265.8,"f":1.307},{"w":5268.0,"f":1.405},{"w":5270.1,"f":1.27},{"w":5273.6,"f":1.486},{"w":5276.6,"f":1.486},{"w":5278.7,"f":1.607},{"w":5281.7,"f":1.558},{"w":5283.9,"f":1.452},{"w":5287.4,"f":1.631},{"w":5290.4,"f":1.636},{"w":5293.8,"f":1.602},{"w":5297.3,"f":1.457},{"w":5300.3,"f":1.558},{"w":5303.7,"f":1.631},{"w":5306.8,"f":1.602},{"w":5308.9,"f":1.645},{"w":5312.4,"f":1.66},{"w":5315.4,"f":1.616},{"w":5317.5,"f":1.558},{"w":5320.6,"f":1.616},{"w":5322.7,"f":1.58},
{"w":5324.9,"f":1.486},{"w":5327.0,"f":1.515},{"w":5328.7,"f":1.319},{"w":5331.3,"f":1.515},{"w":5333.5,"f":1.596},{"w":5336.5,"f":1.616},{"w":5338.7,"f":1.587},{"w":5340.8,"f":1.452},{"w":5343.4,"f":1.587},{"w":5346.4,"f":1.558},{"w":5348.6,"f":1.538},{"w":5350.7,"f":1.558},{"w":5352.9,"f":1.607},{"w":5356.3,"f":1.665},{"w":5359.4,"f":1.645},{"w":5361.5,"f":1.573},{"w":5364.5,"f":1.521},{"w":5367.1,"f":1.515},{"w":5368.9,"f":1.53},{"w":5371.4,"f":1.394},{"w":5374.5,"f":1.596},{"w":5376.6,"f":1.602},{"w":5378.8,"f":1.579},{"w":5380.9,"f":1.587},{"w":5383.1,"f":1.509},{"w":5386.1,"f":1.596},{"w":5388.3,"f":1.567},{"w":5390.8,"f":1.515},{"w":5393.9,"f":1.501},{"w":5396.0,"f":1.486},{"w":5398.2,"f":1.429},{"w":5400.3,"f":1.515},{"w":5402.5,"f":1.53},{"w":5405.5,"f":1.356},{"w":5408.1,"f":1.472},{"w":5410.3,"f":1.457},{"w":5413.3,"f":1.538},{"w":5415.4,"f":1.515},{"w":5417.6,"f":1.579},{"w":5419.7,"f":1.501},{"w":5421.9,"f":1.558},{"w":5424.9,"f":1.457},{"w":5427.1,"f":1.587},{"w":5429.7,"f":1.515},{"w":5432.7,"f":1.472},{"w":5435.7,"f":1.544},{"w":5439.2,"f":1.616},{"w":5441.3,"f":1.602},{"w":5443.5,"f":1.558},{"w":5446.9,"f":1.429},{"w":5449.9,"f":1.602},{"w":5453.0,"f":1.587},{"w":5455.5,"f":1.443},{"w":5459.9,"f":1.622},{"w":5462.9,"f":1.558},{"w":5465.9,"f":1.515},{"w":5469.3,"f":1.587},{"w":5472.4,"f":1.558},{"w":5474.5,"f":1.53},{"w":5477.1,"f":1.423},{"w":5480.1,"f":1.515},{"w":5482.3,"f":1.53},{"w":5485.7,"f":1.587},{"w":5488.8,"f":1.515},{"w":5490.9,"f":1.558},{"w":5493.9,"f":1.544},{"w":5496.5,"f":1.55},{"w":5499.5,"f":1.596},{"w":5501.7,"f":1.538},{"w":5503.8,"f":1.558},{"w":5506.9,"f":1.509},{"w":5508.2,"f":1.53}
]
},
"resolve": {"scale": {"x": "independent", "y": "independent", "color": "independent"}},
"vconcat": [
{
  "width": 576, "height": 280,
  "layer": [
    {"data": {"name": "bright_no"}, "mark": {"type": "line", "strokeWidth": 1},
     "encoding": {
       "x": {"field": "w", "type": "quantitative", "scale": {"domain": [4764.7, 5508.2], "nice": false, "zero": false}, "axis": null},
       "y": {"field": "f", "type": "quantitative", "scale": {"domain": [0, 0.0473], "nice": false, "zero": false}, "axis": {"values": [0, 0.01, 0.02, 0.03, 0.04], "format": ".2f", "title": null}},
       "color": {"field": "s", "type": "nominal", "scale": {"domain": ["no sky subtraction", "with sky subtraction"], "range": ["#ff0000", "#008000"]},
         "legend": {"title": null, "orient": "none", "legendX": 10, "legendY": 9, "symbolType": "M-2,0H2", "symbolSize": 441, "symbolStrokeWidth": 1, "symbolOffset": 10, "labelOffset": 28, "rowPadding": 8, "padding": 6, "strokeColor": "#cccccc", "fillColor": "#ffffff", "cornerRadius": 5, "labelFontSize": 20, "labelLimit": 0}}
     }},
    {"data": {"name": "bright_with"}, "mark": {"type": "line", "strokeWidth": 1},
     "encoding": {
       "x": {"field": "w", "type": "quantitative"},
       "y": {"field": "f", "type": "quantitative"},
       "color": {"field": "s", "type": "nominal"}
     }},
    {"data": {"values": [{}]}, "mark": {"type": "text", "text": "bright source", "align": "right", "baseline": "alphabetic", "fontSize": 20, "font": "DejaVu Sans", "color": "#000000"},
     "encoding": {"x": {"datum": 5500, "type": "quantitative"}, "y": {"datum": 0.0017, "type": "quantitative"}}}
  ]
},
{
  "width": 576, "height": 280,
  "layer": [
    {"data": {"name": "faint_no"}, "mark": {"type": "line", "strokeWidth": 1},
     "encoding": {
       "x": {"field": "w", "type": "quantitative", "scale": {"domain": [4764.7, 5508.2], "nice": false, "zero": false}, "axis": null},
       "y": {"field": "f", "type": "quantitative", "scale": {"domain": [0, 0.1395], "nice": false, "zero": false}, "axis": {"values": [0, 0.025, 0.05, 0.075, 0.1, 0.125], "format": ".3f", "title": null}},
       "color": {"field": "s", "type": "nominal", "scale": {"domain": ["no sky subtraction", "with sky subtraction"], "range": ["#ff0000", "#008000"]}, "legend": null}
     }},
    {"data": {"name": "faint_with"}, "mark": {"type": "line", "strokeWidth": 1},
     "encoding": {
       "x": {"field": "w", "type": "quantitative"},
       "y": {"field": "f", "type": "quantitative"},
       "color": {"field": "s", "type": "nominal", "legend": null}
     }},
    {"data": {"values": [{}]}, "mark": {"type": "text", "text": "faint source", "align": "right", "baseline": "alphabetic", "fontSize": 20, "font": "DejaVu Sans", "color": "#000000"},
     "encoding": {"x": {"datum": 5500, "type": "quantitative"}, "y": {"datum": 0.0047, "type": "quantitative"}}}
  ]
},
{
  "width": 576, "height": 280,
  "layer": [
    {"data": {"name": "sky"}, "mark": {"type": "line", "strokeWidth": 1, "color": "#bf00bf"},
     "encoding": {
       "x": {"field": "w", "type": "quantitative", "scale": {"domain": [4764.7, 5508.2], "nice": false, "zero": false}, "axis": {"values": [4800, 4900, 5000, 5100, 5200, 5300, 5400, 5500], "format": "d", "title": "Wavelength [Å]", "labelPadding": 9, "titlePadding": 9}},
       "y": {"field": "f", "type": "quantitative", "scale": {"domain": [-0.075, 2.346], "nice": false, "zero": false}, "axis": {"values": [0, 0.5, 1, 1.5, 2], "format": ".1f", "title": null}}
     }},
    {"data": {"values": [{}]}, "mark": {"type": "text", "text": "sky spectrum", "align": "left", "baseline": "alphabetic", "fontSize": 20, "font": "DejaVu Sans", "color": "#000000"},
     "encoding": {"x": {"datum": 4772, "type": "quantitative"}, "y": {"datum": 2.165, "type": "quantitative"}}}
  ]
}
]
}
